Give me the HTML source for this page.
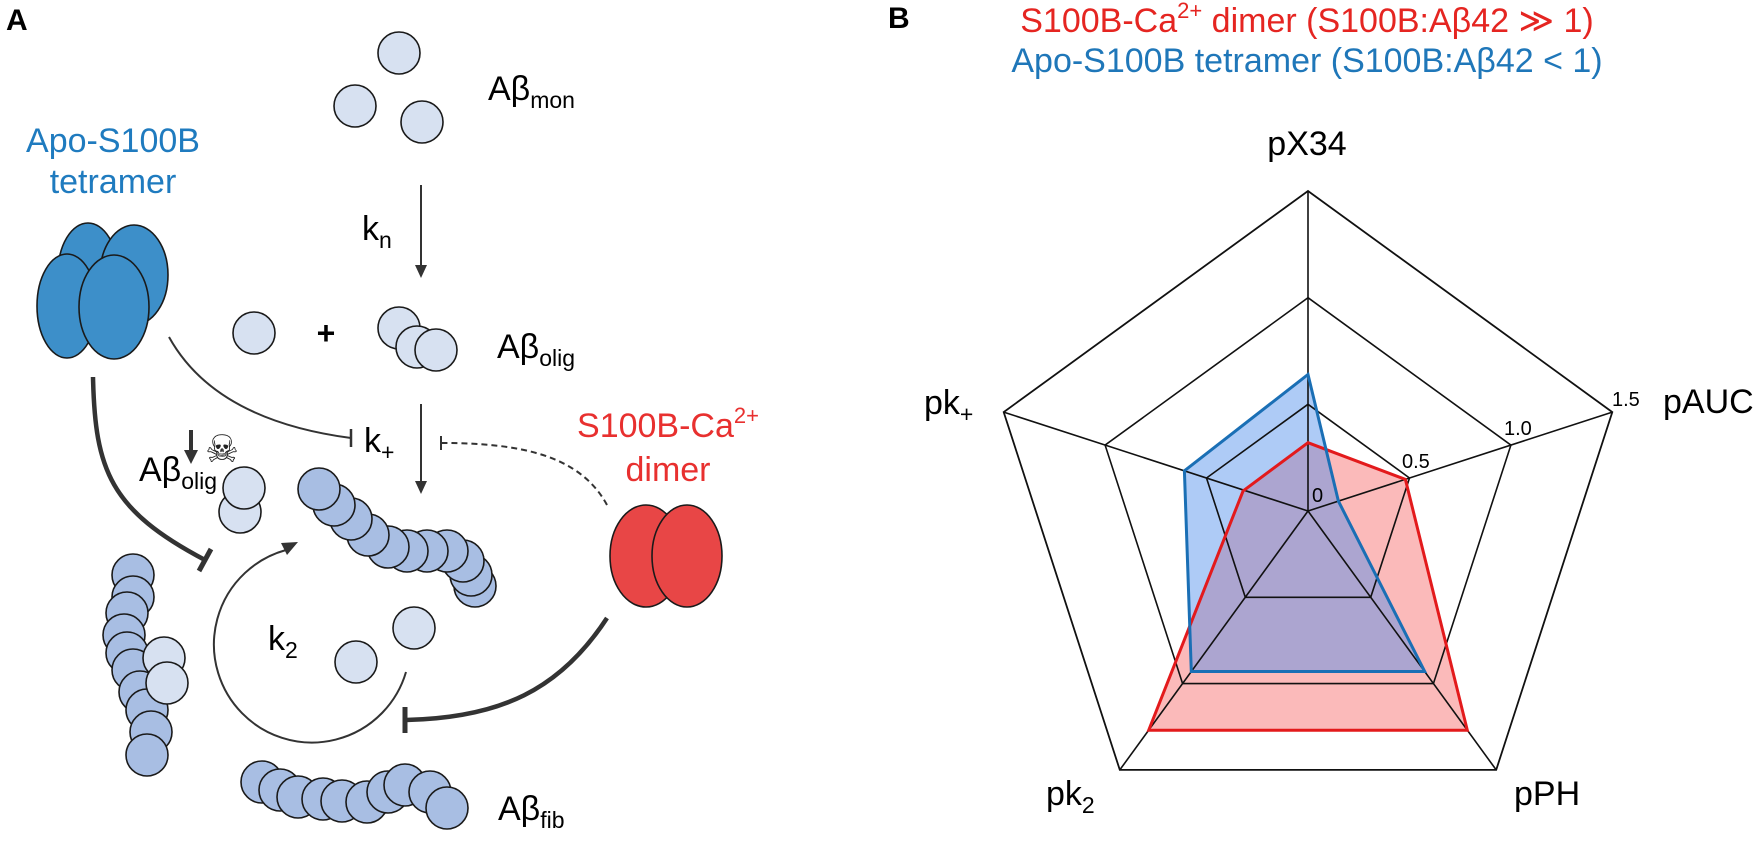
<!DOCTYPE html>
<html><head><meta charset="utf-8"><style>
html,body{margin:0;padding:0;background:#fff;}
svg{display:block;font-family:"Liberation Sans",sans-serif;}
</style></head><body>
<svg width="1760" height="842" viewBox="0 0 1760 842" xmlns="http://www.w3.org/2000/svg">
<defs>
<g id="m"><circle r="21" fill="#d7e1f1" stroke="#1a1a1a" stroke-width="1.6"/></g>
<g id="f"><circle r="21" fill="#a8bee3" stroke="#1a1a1a" stroke-width="1.6"/></g>
</defs>
<!-- Panel A -->
<text x="6" y="30" font-size="30" font-weight="bold">A</text>
<use href="#m" x="399" y="53"/><use href="#m" x="355" y="106"/><use href="#m" x="422" y="122"/>
<text x="488" y="100" font-size="34">Aβ<tspan font-size="23" dy="8">mon</tspan></text>
<text x="113" y="152" font-size="34" fill="#1f7bbf" text-anchor="middle">Apo-S100B</text>
<text x="113" y="193" font-size="34" fill="#1f7bbf" text-anchor="middle">tetramer</text>
<g fill="#3d8fc9" stroke="#1a1a1a" stroke-width="1.6">
<ellipse cx="88" cy="273" rx="30" ry="50"/>
<ellipse cx="134" cy="275" rx="34" ry="50"/>
<ellipse cx="67" cy="306" rx="30" ry="52"/>
<ellipse cx="114" cy="307" rx="35" ry="52"/>
</g>
<!-- kn arrow -->
<line x1="421" y1="185" x2="421" y2="266" stroke="#333" stroke-width="2"/>
<polygon points="415,265 427,265 421,278" fill="#333"/>
<text x="362" y="240" font-size="34">k<tspan font-size="23" dy="8">n</tspan></text>
<use href="#m" x="254" y="333"/>
<text x="326" y="344" font-size="32" text-anchor="middle" font-weight="bold">+</text>
<use href="#m" x="399" y="328"/><use href="#m" x="417" y="347"/><use href="#m" x="436" y="350"/>
<text x="497" y="358" font-size="34">Aβ<tspan font-size="23" dy="8">olig</tspan></text>
<!-- down arrow k+ -->
<line x1="421" y1="404" x2="421" y2="482" stroke="#333" stroke-width="2"/>
<polygon points="415,481 427,481 421,494" fill="#333"/>
<text x="364" y="452" font-size="34">k<tspan font-size="23" dy="8">+</tspan></text>
<!-- apo thin inhibitor -->
<path d="M169,337 Q215,420 351,438" fill="none" stroke="#333" stroke-width="2"/>
<line x1="351" y1="429" x2="351" y2="447" stroke="#333" stroke-width="2.5"/>
<!-- dashed -->
<path d="M607,505 C580,455 520,443 442,443" fill="none" stroke="#333" stroke-width="2" stroke-dasharray="6,4"/>
<line x1="441" y1="436" x2="441" y2="450" stroke="#333" stroke-width="2"/>
<text x="668" y="437" font-size="34" fill="#e8302f" text-anchor="middle">S100B-Ca<tspan font-size="22" dy="-14">2+</tspan></text>
<text x="668" y="481" font-size="34" fill="#e8302f" text-anchor="middle">dimer</text>
<g fill="#e84646" stroke="#1a1a1a" stroke-width="1.6">
<ellipse cx="646" cy="556" rx="36" ry="51"/>
<ellipse cx="687" cy="556" rx="35" ry="51"/>
</g>
<!-- red thick inhibitor -->
<path d="M607,618 C560,690 500,718 406,720" fill="none" stroke="#333" stroke-width="4.5"/>
<line x1="405" y1="707" x2="405" y2="733" stroke="#333" stroke-width="5"/>
<!-- apo thick inhibitor -->
<path d="M93,377 C95,470 110,510 205,560" fill="none" stroke="#333" stroke-width="4.5"/>
<line x1="199" y1="571" x2="211" y2="549" stroke="#333" stroke-width="5"/>
<!-- down arrow + skull -->
<line x1="191" y1="430" x2="191" y2="452" stroke="#333" stroke-width="4"/>
<polygon points="184,450 198,450 191,464" fill="#333"/>
<text x="222" y="462" font-size="38" text-anchor="middle" fill="#222">☠</text>
<text x="139" y="481" font-size="34">Aβ<tspan font-size="23" dy="8">olig</tspan></text>
<use href="#m" x="240" y="512"/><use href="#m" x="244" y="488"/>
<!-- diagonal fibril -->
<use href="#f" x="475" y="586"/><use href="#f" x="471" y="575"/><use href="#f" x="463" y="561"/><use href="#f" x="447" y="551"/><use href="#f" x="427" y="551"/><use href="#f" x="407" y="551"/><use href="#f" x="388" y="547"/><use href="#f" x="368" y="535"/><use href="#f" x="351" y="519"/><use href="#f" x="334" y="505"/><use href="#f" x="319" y="489"/>
<!-- k2 cycle -->
<path d="M406,672 A98,98 0 1 1 286,550" fill="none" stroke="#333" stroke-width="2"/>
<polygon points="298,542 281,543 287,555" fill="#333"/>
<text x="268" y="650" font-size="34">k<tspan font-size="23" dy="8">2</tspan></text>
<use href="#m" x="414" y="628"/><use href="#m" x="356" y="662"/>
<!-- vertical fibril -->
<use href="#f" x="133" y="575"/><use href="#f" x="133" y="597"/><use href="#f" x="127" y="613"/><use href="#f" x="124" y="635"/><use href="#f" x="127" y="653"/><use href="#f" x="133" y="670"/><use href="#f" x="140" y="692"/><use href="#f" x="147" y="710"/><use href="#f" x="151" y="732"/><use href="#f" x="147" y="755"/>
<use href="#m" x="164" y="658"/><use href="#m" x="167" y="683"/>
<!-- bottom fibril -->
<use href="#f" x="262" y="782"/><use href="#f" x="280" y="790"/><use href="#f" x="298" y="797"/><use href="#f" x="323" y="799"/><use href="#f" x="342" y="801"/><use href="#f" x="367" y="802"/><use href="#f" x="388" y="792"/><use href="#f" x="405" y="785"/><use href="#f" x="430" y="792"/><use href="#f" x="447" y="808"/>
<text x="498" y="820" font-size="34">Aβ<tspan font-size="23" dy="8">fib</tspan></text>

<!-- Panel B -->
<text x="888" y="28" font-size="30" font-weight="bold">B</text>
<text x="1307" y="32" font-size="34" fill="#e52521" text-anchor="middle">S100B-Ca<tspan font-size="22" dy="-14">2+</tspan><tspan dy="14"> dimer (S100B:Aβ42 ≫ 1)</tspan></text>
<text x="1307" y="72" font-size="34" fill="#1f77b9" text-anchor="middle">Apo-S100B tetramer (S100B:Aβ42 &lt; 1)</text>
<!-- outer grid -->
<polygon points="1308,191 1612.3,412.1 1496.2,769.9 1119.8,769.9 1003.7,412.1" fill="none" stroke="#111" stroke-width="1.8"/>
<!-- fills -->
<polygon points="1308,442.7 1405.4,479.4 1467.3,730.2 1148.7,730.2 1243.1,490.9" fill="rgb(245,90,90)" fill-opacity="0.42"/>
<polygon points="1308,374.5 1338.4,501.1 1424.7,671.5 1191.3,671.5 1184.4,470.8" fill="rgb(75,140,235)" fill-opacity="0.45"/>
<!-- grid -->
<g fill="none" stroke="#111" stroke-width="1.6">
<polygon points="1308,297.7 1510.9,445.1 1433.4,683.6 1182.6,683.6 1105.1,445.1"/>
<polygon points="1308,404.3 1409.5,478 1370.7,597.3 1245.3,597.3 1206.5,478"/>
<line x1="1308" y1="511" x2="1308" y2="191"/>
<line x1="1308" y1="511" x2="1612.3" y2="412.1"/>
<line x1="1308" y1="511" x2="1496.2" y2="769.9"/>
<line x1="1308" y1="511" x2="1119.8" y2="769.9"/>
<line x1="1308" y1="511" x2="1003.7" y2="412.1"/>
</g>
<polygon points="1308,442.7 1405.4,479.4 1467.3,730.2 1148.7,730.2 1243.1,490.9" fill="none" stroke="#e31a1c" stroke-width="3"/>
<polygon points="1308,374.5 1338.4,501.1 1424.7,671.5 1191.3,671.5 1184.4,470.8" fill="none" stroke="#1a6fb5" stroke-width="3"/>
<g font-size="20">
<text x="1612" y="406">1.5</text>
<text x="1504" y="435">1.0</text>
<text x="1402" y="468">0.5</text>
<text x="1312" y="502">0</text>
</g>
<g font-size="34">
<text x="1307" y="155" text-anchor="middle">pX34</text>
<text x="1663" y="413">pAUC</text>
<text x="924" y="414">pk<tspan font-size="23" dy="8">+</tspan></text>
<text x="1046" y="805">pk<tspan font-size="23" dy="8">2</tspan></text>
<text x="1514" y="805">pPH</text>
</g>
</svg>
</body></html>
